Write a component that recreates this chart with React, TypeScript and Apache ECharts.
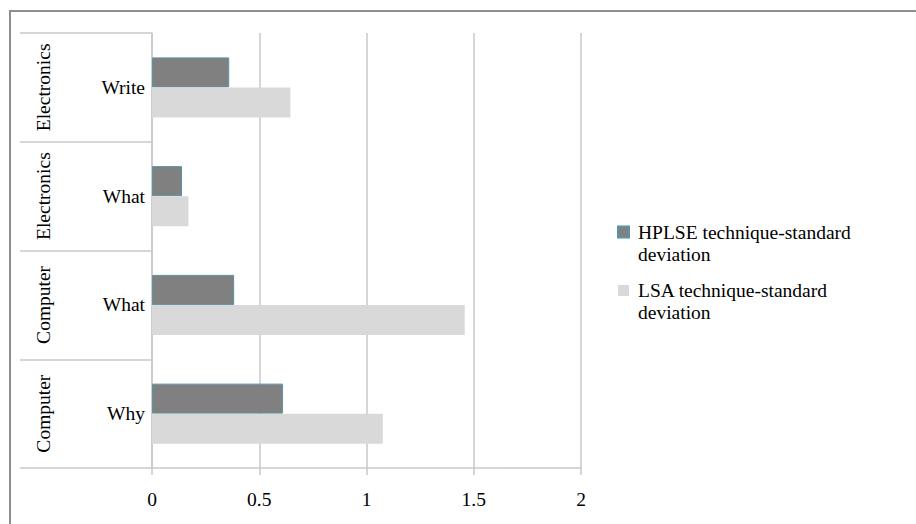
import React, { useEffect, useRef } from 'react';
import * as echarts from 'echarts';

const groups = ['Electronics', 'Electronics', 'Computer', 'Computer'];
const questions = ['Write', 'What', 'What', 'Why'];
const seriesNames = ['HPLSE technique-standard deviation', 'LSA technique-standard deviation'];
const hplse = [0.36, 0.14, 0.383, 0.611];
const lsa = [0.645, 0.17, 1.458, 1.076];
const xMin = 0;
const xMax = 2;
const xStep = 0.5;

export default function App() {
  const ref = useRef<HTMLDivElement>(null);
  useEffect(() => {
    const chart = echarts.init(ref.current!, null, { renderer: 'svg' });
    const font = 'Liberation Serif, serif';
    const fs = 19.5;
    const gridColor = '#c8c8c8';
    const cats = questions.map((q, i) => `${groups[i]}|${q}`);
    chart.setOption({
      animation: false,
      backgroundColor: '#ffffff',
      textStyle: { fontFamily: font, color: '#000' },
      graphic: [
        {
          type: 'rect',
          shape: { x: 10, y: 11, width: 1200, height: 1200 },
          style: { fill: 'none', stroke: '#8e8e8e', lineWidth: 2 },
          silent: true,
        },
      ],
      grid: { left: 152, right: 335, top: 33, bottom: 56, containLabel: false },
      legend: {
        orient: 'vertical',
        left: 617,
        top: 199,
        padding: 0,
        itemGap: -7.5,
        itemWidth: 11,
        itemHeight: 11,
        icon: 'rect',
        data: seriesNames,
        formatter: (n: string) => '\n' + n.replace(' deviation', '\ndeviation'),
        textStyle: {
          fontFamily: font,
          fontSize: fs,
          color: '#000',
          lineHeight: 22,
          padding: [0, 0, 0, 4],
        },
      },
      xAxis: {
        type: 'value',
        min: xMin,
        max: xMax,
        interval: xStep,
        axisLine: { show: true, lineStyle: { color: gridColor, width: 1.5 } },
        axisTick: { show: true, length: 7, lineStyle: { color: gridColor, width: 1.5 } },
        splitLine: { show: true, lineStyle: { color: gridColor, width: 1.5 } },
        axisLabel: { fontFamily: font, fontSize: fs, color: '#000', margin: 21 },
      },
      yAxis: [
        {
          type: 'category',
          data: cats,
          inverse: true,
          axisLine: { show: true, lineStyle: { color: gridColor, width: 1.5 } },
          axisTick: { show: true, length: 132, interval: 0, lineStyle: { color: gridColor, width: 1.5 } },
          axisLabel: {
            fontFamily: font,
            fontSize: fs,
            color: '#000',
            margin: 7,
            interval: 0,
            formatter: (v: string) => v.split('|')[1],
          },
        },
        {
          type: 'category',
          data: cats,
          inverse: true,
          position: 'left',
          offset: 91,
          axisLine: { show: false },
          axisTick: { show: false },
          axisLabel: {
            fontFamily: font,
            fontSize: fs,
            color: '#000',
            rotate: 90,
            margin: 8,
            interval: 0,
            formatter: (v: string) => v.split('|')[0],
          },
        },
      ],
      series: [
        {
          name: seriesNames[0],
          type: 'bar',
          yAxisIndex: 0,
          data: hplse,
          barWidth: 30,
          barGap: '0%',
          itemStyle: { color: '#808080', borderColor: '#5a93a6', borderWidth: 1 },
        },
        {
          name: seriesNames[1],
          type: 'bar',
          yAxisIndex: 0,
          data: lsa,
          barWidth: 30,
          barGap: '0%',
          itemStyle: { color: '#d9d9d9' },
        },
      ],
    });
    return () => chart.dispose();
  }, []);
  return <div ref={ref} style={{ position: 'fixed', left: 0, top: 0, width: 916, height: 524 }} />;
}
